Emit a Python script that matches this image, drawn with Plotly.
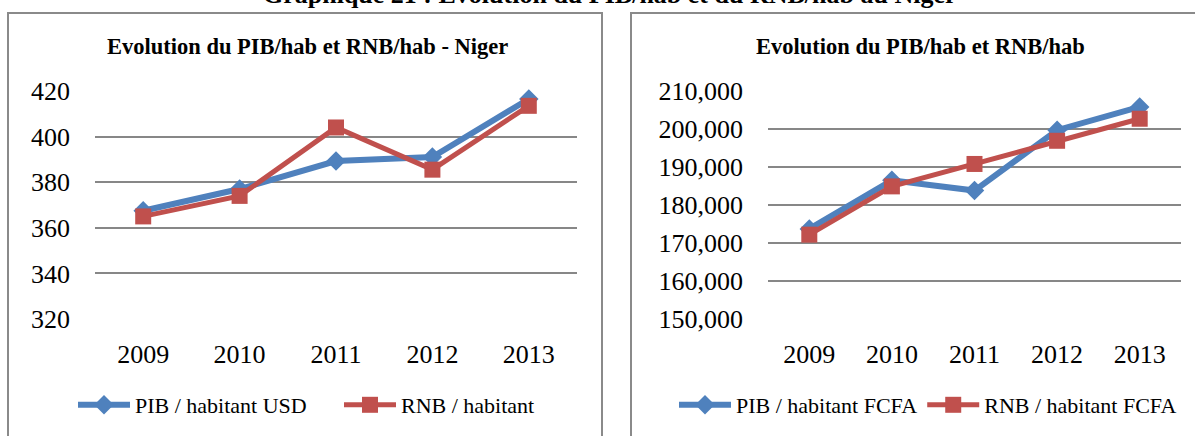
import plotly.graph_objects as go

W, H = 1195, 436

years = ["2009", "2010", "2011", "2012", "2013"]
pib_usd = [367.5, 377, 389.3, 391, 416.5]
rnb_usd = [365, 374, 404, 385.5, 413.5]
pib_fcfa = [173700, 186500, 183800, 199700, 205800]
rnb_fcfa = [172200, 184900, 190800, 196900, 202700]

left_ticks = [320, 340, 360, 380, 400, 420]
right_ticks = [150000, 160000, 170000, 180000, 190000, 200000, 210000]
right_ticktext = ["150,000", "160,000", "170,000", "180,000", "190,000", "200,000", "210,000"]

header = "Graphique 21 : Evolution du PIB/hab et du RNB/hab au Niger"
title_left = "Evolution du PIB/hab et RNB/hab - Niger"
title_right = "Evolution du PIB/hab et RNB/hab"

BLUE = "#4F81BD"
RED = "#C0504D"
GRID = "#878787"
FONT = "Liberation Serif"


def px(x):
    return x / W


def py(y):
    return 1 - y / H


fig = go.Figure()

fig.add_trace(go.Scatter(x=years, y=pib_usd, name="PIB / habitant USD", mode="lines+markers",
                         line=dict(color=BLUE, width=6), marker=dict(symbol="diamond", size=15, color=BLUE),
                         xaxis="x", yaxis="y", legend="legend", cliponaxis=False))
fig.add_trace(go.Scatter(x=years, y=rnb_usd, name="RNB / habitant", mode="lines+markers",
                         line=dict(color=RED, width=5), marker=dict(symbol="square", size=16, color=RED),
                         xaxis="x", yaxis="y", legend="legend", cliponaxis=False))
fig.add_trace(go.Scatter(x=years, y=pib_fcfa, name="PIB / habitant FCFA", mode="lines+markers",
                         line=dict(color=BLUE, width=6), marker=dict(symbol="diamond", size=15, color=BLUE),
                         xaxis="x2", yaxis="y2", legend="legend2", cliponaxis=False))
fig.add_trace(go.Scatter(x=years, y=rnb_fcfa, name="RNB / habitant FCFA", mode="lines+markers",
                         line=dict(color=RED, width=5), marker=dict(symbol="square", size=16, color=RED),
                         xaxis="x2", yaxis="y2", legend="legend2", cliponaxis=False))

ydom = [py(319), py(91)]
tickfont = dict(family=FONT, size=26, color="#000")

common_x = dict(type="category", range=[-0.5, 4.5], showgrid=False, zeroline=False, showline=False,
                ticks="", tickfont=tickfont, ticklabelstandoff=17, fixedrange=True, automargin=False)
common_y = dict(showgrid=True, gridcolor=GRID, gridwidth=1.6, zeroline=False, showline=False,
                ticks="", tickfont=tickfont, ticklabelstandoff=24, fixedrange=True, automargin=False)

legend_common = dict(orientation="h", xanchor="center", yanchor="middle", itemwidth=52,
                     font=dict(family=FONT, size=22, color="#000"), bgcolor="rgba(0,0,0,0)")

fig.update_layout(
    width=W, height=H,
    margin=dict(l=0, r=0, t=0, b=0, pad=0, autoexpand=False),
    paper_bgcolor="white", plot_bgcolor="white",
    font=dict(family=FONT, color="#000"),
    showlegend=True,
    xaxis=dict(domain=[px(95), px(577)], anchor="y", **common_x),
    yaxis=dict(domain=ydom, anchor="x", range=[320, 420], tickvals=left_ticks, **common_y),
    xaxis2=dict(domain=[px(768), px(1181)], anchor="y2", **common_x),
    yaxis2=dict(domain=ydom, anchor="x2", range=[150000, 210000], tickvals=right_ticks,
                ticktext=right_ticktext, **common_y),
    legend=dict(x=px(339), y=py(405), entrywidth=199, **legend_common),
    legend2=dict(x=px(928), y=py(405), **legend_common),
    shapes=[
        dict(type="rect", xref="paper", yref="paper", x0=px(8), x1=px(602), y0=py(460), y1=py(13),
             line=dict(color="#8a8a8a", width=2), fillcolor="rgba(0,0,0,0)", layer="below"),
        dict(type="rect", xref="paper", yref="paper", x0=px(631), x1=px(1220), y0=py(460), y1=py(13),
             line=dict(color="#8a8a8a", width=2), fillcolor="rgba(0,0,0,0)", layer="below"),
    ],
    annotations=[
        dict(text="<b>" + header + "</b>", xref="paper", yref="paper", x=px(610), y=py(-5),
             xanchor="center", yanchor="middle", showarrow=False,
             font=dict(family=FONT, size=26, color="#000")),
        dict(text="<b>" + title_left + "</b>", xref="paper", yref="paper", x=px(307), y=py(47),
             xanchor="center", yanchor="middle", showarrow=False,
             font=dict(family=FONT, size=22.5, color="#000")),
        dict(text="<b>" + title_right + "</b>", xref="paper", yref="paper", x=px(920), y=py(47),
             xanchor="center", yanchor="middle", showarrow=False,
             font=dict(family=FONT, size=22.5, color="#000")),
    ],
)

fig.write_html("out.html", config={"displayModeBar": False},
               post_script="document.body.style.margin='0';document.body.style.padding='0';")
